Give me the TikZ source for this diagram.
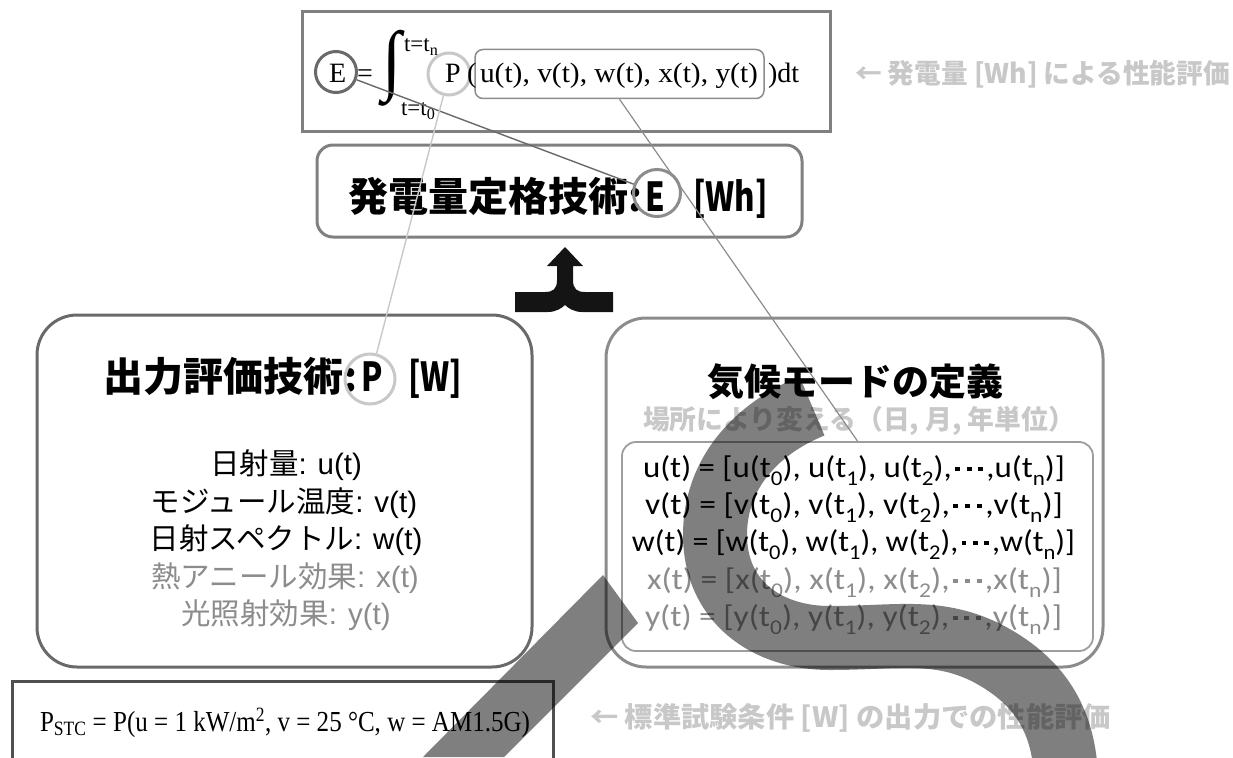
\documentclass[tikz,border=0pt]{standalone}
\usepackage{amsmath}
\usepackage[no-math]{fontspec}
\usepackage{graphicx}
\setmainfont{Liberation Sans}
\newfontfamily\jpfont{Noto Sans CJK JP}
\newfontfamily\carlfont{Carlito}
\newfontfamily\serifont{Liberation Serif}
\definecolor{lite}{RGB}{200,200,200}
\definecolor{midg}{RGB}{140,140,140}
\definecolor{edgeg}{RGB}{128,128,128}
\definecolor{darkg}{RGB}{105,105,105}
\definecolor{deepg}{RGB}{80,80,80}
% three small square dots
\newcommand\sqd{\hspace{0.1em}\rule[0.2em]{0.15em}{0.15em}\hspace{0.1em}}
\newcommand\sqdots{\sqd\sqd\sqd}
\newcommand\sub[1]{\raisebox{-0.28em}{\fontsize{21}{21}\selectfont #1}}
% narrow bold latin inside the titles
\newcommand\narrow[1]{\scalebox{0.78}[1]{#1}}
\begin{document}
\begin{tikzpicture}[x=1pt,y=-1pt,
  txt/.style={inner sep=0pt, outer sep=0pt},
  ftxt/.style={txt, font=\serifont\fontsize{28}{30}\selectfont},
  limtxt/.style={txt, font=\serifont\fontsize{23}{26}\selectfont},
  jptitle/.style={txt, font=\jpfont\bfseries\fontsize{40}{44}\selectfont},
  jpnote/.style={txt, font=\jpfont\bfseries\fontsize{27}{30}\selectfont, text=lite},
  ltxt/.style={txt, font=\fontsize{29.5}{32}\selectfont},
  eqtxt/.style={txt, font=\carlfont\fontsize{30}{32}\selectfont},
  ring/.style={circle, draw, line width=3pt, inner sep=0pt},
  panel/.style={draw, line width=3pt, inner sep=0pt, rounded corners=40pt},
  link/.style={line width=1.4pt}]
\useasboundingbox (0,0) rectangle (1233,757);
\clip (0,0) rectangle (1233,757);

% ---------- energy integral ----------
\node[draw=edgeg, line width=3pt, inner sep=0pt, minimum width=528pt, minimum height=120pt] (topbox) at (566,71.5) {};
\node[ring, draw=darkg, minimum size=41pt] (cE) at (336,72) {};
\node[ring, draw=lite, minimum size=42pt] (cP) at (449,74) {};
\node[draw=midg, line width=1.5pt, rounded corners=8pt, minimum width=289pt, minimum height=49pt, inner sep=0pt] (argbox) at (619.5,74) {};
\node[ftxt, anchor=base west] (fE) at (329,83) {E};
\node[ftxt, anchor=base west] (feq) at (357,83) {=};
\node[txt] (fint) at (392,68) {\resizebox*{19pt}{76pt}{\serifont ∫}};
\node[limtxt, anchor=base west] (fup) at (404,52) {t=t\textsubscript{n}};
\node[limtxt, anchor=base west] (flow) at (401,116) {t=t\textsubscript{0}};
\node[ftxt, anchor=base west] (fP) at (445,83) {P};
\node[ftxt, anchor=base west] (flp) at (467,83) {(};
\node[ftxt, anchor=base west] (fargs) at (480,83) {\resizebox{278pt}{\height}{u(t), v(t), w(t), x(t), y(t)}};
\node[ftxt, anchor=base west] (fdt) at (768,83) {)dt};
\node[jpnote, anchor=base west] (note1) at (855,84) {\resizebox{375pt}{\height}{← 発電量 [Wh] による性能評価}};

% ---------- energy rating ----------
\node[panel, draw=edgeg, rounded corners=16pt, minimum width=485pt, minimum height=92pt] (midbox) at (559.5,191) {};
\node[jptitle, anchor=base west] (mtitle) at (348,211) {発電量定格技術:};
\node[ring, draw=midg, minimum size=47pt] (cEm) at (657,193) {};
\node[jptitle, anchor=base] (mE) at (655,211) {\narrow{E}};
\node[jptitle, anchor=base west] (mWh) at (693,211) {\narrow{[Wh]}};

% ---------- merge arrow ----------
\fill[black!92] (565,247) -- (583,266) -- (573,266) -- (573,280)
  .. controls (573,289) and (577,292) .. (585,292) -- (613,292) -- (613,312) -- (582,312)
  .. controls (574,312) and (568,308) .. (565,305)
  .. controls (562,308) and (556,312) .. (548,312) -- (515,312) -- (515,292) -- (545,292)
  .. controls (553,292) and (557,289) .. (557,280) -- (557,266) -- (547,266) -- cycle;

% ---------- power rating ----------
\node[panel, draw=darkg, minimum width=495pt, minimum height=352pt] (lbox) at (284.5,491) {};
\node[jptitle, anchor=base west] (ltitle) at (103,391) {出力評価技術:};
\node[ring, draw=lite, minimum size=50pt] (cPl) at (370,379) {};
\node[jptitle, anchor=base] (lP) at (372,391) {\narrow{P}};
\node[jptitle, anchor=base west] (lW) at (408,391) {\narrow{[W]}};
\node[ltxt, anchor=base] (l1) at (286,474) {{\jpfont 日射量}: u(t)};
\node[ltxt, anchor=base] (l2) at (284,512) {{\jpfont モジュール温度}: v(t)};
\node[ltxt, anchor=base] (l3) at (286,549) {{\jpfont 日射スペクトル}: w(t)};
\node[ltxt, anchor=base, text=midg] (l4) at (285,587) {{\jpfont 熱アニール効果}: x(t)};
\node[ltxt, anchor=base, text=midg] (l5) at (286,624) {{\jpfont 光照射効果}: y(t)};

% ---------- climate modes ----------
\node[panel, draw=midg, minimum width=497pt, minimum height=349pt] (rbox) at (854.5,492.5) {};
\node[jptitle, anchor=base, font=\jpfont\bfseries\fontsize{37}{40}\selectfont] (rtitle) at (855,395) {気候モードの定義};
\node[jpnote, anchor=base] (rsub) at (859,429) {\resizebox{432pt}{\height}{場所により変える（日, 月, 年単位）}};
\node[draw=midg!85, line width=1.8pt, rounded corners=14pt, minimum width=471pt, minimum height=209pt, inner sep=0pt] (eqbox) at (857.5,546.5) {};
\node[eqtxt, anchor=base] (e1) at (854,477) {\resizebox{422pt}{\height}{u(t) = [u(t\sub{0}), u(t\sub{1}), u(t\sub{2}),\sqdots,u(t\sub{n})]}};
\node[eqtxt, anchor=base] (e2) at (854,514) {\resizebox{418pt}{\height}{v(t) = [v(t\sub{0}), v(t\sub{1}), v(t\sub{2}),\sqdots,v(t\sub{n})]}};
\node[eqtxt, anchor=base] (e3) at (853.5,551) {\resizebox{443pt}{\height}{w(t) = [w(t\sub{0}), w(t\sub{1}), w(t\sub{2}),\sqdots,w(t\sub{n})]}};
\node[eqtxt, anchor=base, text=midg] (e4) at (854.5,589) {\resizebox{415pt}{\height}{x(t) = [x(t\sub{0}), x(t\sub{1}), x(t\sub{2}),\sqdots,x(t\sub{n})]}};
\node[eqtxt, anchor=base, text=midg] (e5) at (853.5,626) {\resizebox{417pt}{\height}{y(t) = [y(t\sub{0}), y(t\sub{1}), y(t\sub{2}),\sqdots,y(t\sub{n})]}};

% ---------- standard test conditions ----------
\draw[deepg, line width=3pt] (12,800) -- (12,681) -- (553,681) -- (553,800);
\node[txt, anchor=base west, font=\serifont\fontsize{29}{30}\selectfont] (stc) at (40,731) {\resizebox{490pt}{\height}{P\textsubscript{STC} = P(u = 1 kW/m\textsuperscript{2}, v = 25 °C, w = AM1.5G)}};
\node[jpnote, anchor=base west, font=\jpfont\bfseries\fontsize{28}{30}\selectfont] (note2) at (590,727) {\resizebox{521pt}{\height}{← 標準試験条件 [W] の出力での性能評価}};

% ---------- links between the symbols ----------
\draw[link, darkg] (cE) -- (cEm);
\draw[link, lite] (cP) -- (cPl);
\draw[link, midg, line width=1.2pt] (argbox.south) -- (eqbox.north);

% ---------- pen strokes ----------
\fill[black, fill opacity=0.5] (603,575) -- (638,623) -- (504,757) -- (423,757) -- cycle;
\draw[black, draw opacity=0.5, line width=64pt]
  (812,406) .. controls (758,428) and (715,472) .. (715,535)
  .. controls (715,600) and (765,638) .. (830,638)
  .. controls (895,638) and (935,628) .. (985,652)
  .. controls (1040,680) and (1063,720) .. (1066,775);
\end{tikzpicture}
\end{document}
